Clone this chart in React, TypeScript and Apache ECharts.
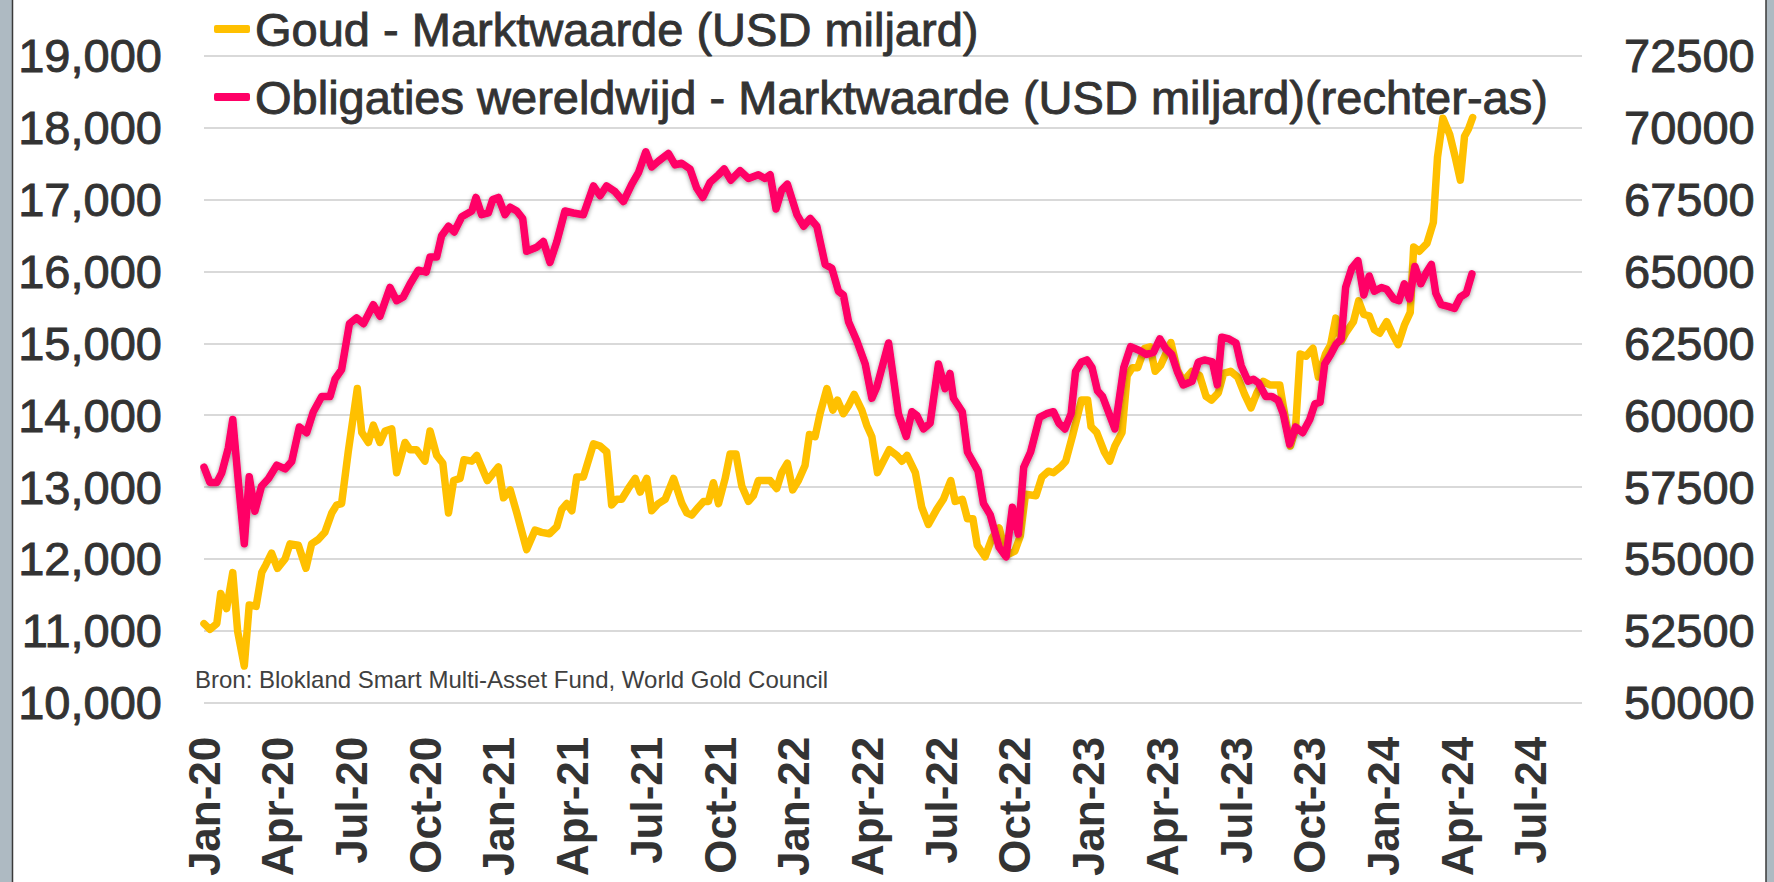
import React, { useEffect, useRef } from "react";
import * as echarts from "echarts";

// x = months since 1 Jan 2020 (quarter ticks every 3 months)
const quarterLabels = [
  "Jan-20", "Apr-20", "Jul-20", "Oct-20",
  "Jan-21", "Apr-21", "Jul-21", "Oct-21",
  "Jan-22", "Apr-22", "Jul-22", "Oct-22",
  "Jan-23", "Apr-23", "Jul-23", "Oct-23",
  "Jan-24", "Apr-24", "Jul-24",
];

const leftTicks = { min: 10000, max: 19000, step: 1000 };
const rightTicks = { min: 50000, max: 72500, step: 2500 };

const goldName = "Goud - Marktwaarde (USD miljard)";
const bondName = "Obligaties wereldwijd - Marktwaarde (USD miljard)(rechter-as)";
const sourceText = "Bron: Blokland Smart Multi-Asset Fund, World Gold Council";

// Gold market value (left axis), [month, USD bn]
const gold: [number, number][] = [
  [0, 11100], [0.24, 11020], [0.52, 11100], [0.68, 11520], [0.92, 11310], [1.17, 11810],
  [1.37, 10990], [1.64, 10510], [1.84, 11360], [2.12, 11340], [2.35, 11810], [2.52, 11920],
  [2.75, 12080], [2.99, 11870], [3.3, 12000], [3.5, 12210], [3.84, 12190], [4.15, 11870],
  [4.38, 12210], [4.65, 12270], [4.92, 12370], [5.2, 12640], [5.4, 12750], [5.6, 12770],
  [5.87, 13490], [6.24, 14370], [6.42, 13760], [6.69, 13620], [6.89, 13860], [7.16, 13620],
  [7.37, 13780], [7.64, 13810], [7.84, 13200], [8.18, 13620], [8.38, 13520], [8.65, 13520],
  [8.99, 13360], [9.2, 13780], [9.47, 13440], [9.72, 13330], [9.95, 12640], [10.16, 13090],
  [10.42, 13120], [10.58, 13380], [10.9, 13360], [11.1, 13440], [11.53, 13090], [11.98, 13280],
  [12.19, 12850], [12.46, 12960], [12.73, 12640], [13.13, 12130], [13.47, 12400], [13.74, 12370],
  [14.06, 12350], [14.36, 12450], [14.56, 12690], [14.76, 12770], [14.97, 12670], [15.17, 13140],
  [15.44, 13140], [15.85, 13600], [16.12, 13570], [16.39, 13490], [16.59, 12750], [16.8, 12830],
  [17.0, 12830], [17.27, 12980], [17.55, 13120], [17.75, 12930], [18.02, 13120], [18.22, 12670],
  [18.49, 12770], [18.77, 12830], [19.11, 13120], [19.45, 12770], [19.65, 12640], [19.85, 12610],
  [20.12, 12720], [20.33, 12800], [20.53, 12800], [20.73, 13060], [20.94, 12770], [21.21, 13120],
  [21.41, 13460], [21.65, 13460], [21.89, 13010], [22.16, 12800], [22.36, 12880], [22.56, 13090],
  [22.83, 13090], [23.04, 13090], [23.31, 12980], [23.51, 13200], [23.74, 13330], [23.96, 12960],
  [24.19, 13090], [24.46, 13300], [24.64, 13730], [24.87, 13700], [25.07, 14020], [25.35, 14370],
  [25.59, 14070], [25.78, 14210], [26.02, 14020], [26.23, 14130], [26.46, 14290], [26.77, 14070],
  [26.97, 13860], [27.18, 13700], [27.41, 13200], [27.65, 13360], [27.89, 13520], [28.2, 13440],
  [28.4, 13360], [28.61, 13440], [28.95, 13200], [29.21, 12720], [29.48, 12480], [29.82, 12690],
  [30.09, 12830], [30.39, 13090], [30.57, 12800], [30.86, 12830], [31.07, 12560], [31.29, 12560],
  [31.47, 12190], [31.79, 12030], [32.07, 12290], [32.36, 12430], [32.64, 12050], [33.0, 12110],
  [33.22, 12320], [33.43, 12900], [33.86, 12880], [34.1, 13140], [34.36, 13220], [34.57, 13200],
  [34.86, 13280], [35.07, 13360], [35.36, 13730], [35.71, 14210], [35.96, 14210], [36.1, 13840],
  [36.33, 13760], [36.64, 13490], [36.86, 13360], [37.07, 13570], [37.36, 13760], [37.57, 14550],
  [37.78, 14660], [38.0, 14660], [38.28, 14930], [38.5, 14950], [38.71, 14610], [38.93, 14690],
  [39.14, 14850], [39.35, 15010], [39.61, 14630], [39.85, 14470], [40.21, 14610], [40.52, 14550],
  [40.78, 14260], [41.0, 14210], [41.28, 14310], [41.49, 14580], [41.78, 14610], [42.07, 14530],
  [42.35, 14290], [42.61, 14100], [42.85, 14310], [43.11, 14470], [43.38, 14420], [43.78, 14420],
  [43.92, 14130], [44.21, 13570], [44.42, 13810], [44.61, 14850], [44.85, 14820], [45.13, 14930],
  [45.35, 14530], [45.64, 14850], [45.85, 14980], [46.06, 15350], [46.28, 15030], [46.46, 15140],
  [46.78, 15300], [46.99, 15590], [47.2, 15400], [47.42, 15380], [47.63, 15190], [47.85, 15140],
  [48.13, 15300], [48.35, 15140], [48.6, 14980], [48.85, 15250], [49.09, 15430], [49.23, 16340],
  [49.46, 16280], [49.77, 16390], [50.03, 16680], [50.2, 17590], [50.42, 18130], [50.7, 17900],
  [50.92, 17590], [51.13, 17270], [51.3, 17880], [51.46, 17980], [51.63, 18140],
];

// Global bonds market value (right axis), [month, USD bn]
const bonds: [number, number][] = [
  [0, 58190], [0.24, 57660], [0.52, 57660], [0.72, 57990], [0.99, 58860], [1.17, 59850],
  [1.4, 57660], [1.64, 55530], [1.84, 57860], [2.07, 56660], [2.34, 57530], [2.62, 57790],
  [2.96, 58260], [3.3, 58130], [3.57, 58390], [3.88, 59590], [4.18, 59390], [4.45, 60120],
  [4.79, 60650], [5.13, 60650], [5.33, 61250], [5.6, 61580], [5.92, 63180], [6.21, 63380],
  [6.49, 63180], [6.89, 63840], [7.16, 63440], [7.57, 64440], [7.84, 63980], [8.11, 64110],
  [8.39, 64570], [8.72, 65040], [9.04, 64970], [9.2, 65500], [9.47, 65500], [9.67, 66240],
  [9.95, 66570], [10.18, 66370], [10.49, 66900], [10.9, 67100], [11.07, 67570], [11.3, 66970],
  [11.57, 67030], [11.75, 67500], [11.98, 67570], [12.25, 66970], [12.46, 67230], [12.73, 67100],
  [12.97, 66840], [13.13, 65700], [13.54, 65840], [13.81, 66040], [14.08, 65310], [14.36, 66040],
  [14.69, 67100], [15.03, 67030], [15.44, 66970], [15.85, 67970], [16.12, 67630], [16.38, 67970],
  [16.73, 67770], [17.07, 67430], [17.41, 68030], [17.68, 68430], [17.98, 69160], [18.22, 68630],
  [18.49, 68830], [18.9, 69100], [19.17, 68700], [19.44, 68760], [19.78, 68560], [20.05, 67900],
  [20.3, 67570], [20.6, 68100], [20.94, 68360], [21.17, 68560], [21.44, 68170], [21.82, 68500],
  [22.16, 68230], [22.56, 68360], [22.83, 68230], [23.04, 68360], [23.28, 67170], [23.51, 67830],
  [23.74, 68030], [24.13, 66970], [24.4, 66570], [24.67, 66840], [24.94, 66570], [25.28, 65240],
  [25.55, 65110], [25.82, 64310], [26.02, 64180], [26.23, 63250], [26.57, 62580], [26.91, 61780],
  [27.18, 60590], [27.38, 60980], [27.86, 62510], [28.26, 60050], [28.58, 59260], [28.81, 60120],
  [29.01, 59990], [29.28, 59520], [29.55, 59720], [29.89, 61780], [30.16, 60920], [30.36, 61450],
  [30.5, 60590], [30.86, 60120], [31.07, 58720], [31.5, 58060], [31.72, 56930], [32.0, 56530],
  [32.36, 55400], [32.64, 55070], [32.9, 56800], [33.14, 55860], [33.36, 58190], [33.64, 58720],
  [34.0, 59920], [34.29, 60050], [34.57, 60120], [34.79, 59720], [35.04, 59520], [35.29, 60050],
  [35.47, 61520], [35.71, 61850], [35.93, 61920], [36.14, 61650], [36.36, 60850], [36.57, 60650],
  [37.07, 59520], [37.43, 61650], [37.71, 62380], [38.07, 62250], [38.35, 62110], [38.64, 62180],
  [38.9, 62650], [39.14, 62310], [39.38, 62110], [39.61, 61520], [39.85, 61050], [40.21, 61180],
  [40.47, 61850], [40.71, 61920], [41.04, 61850], [41.24, 61050], [41.42, 62710], [41.71, 62650],
  [42.0, 62510], [42.21, 61720], [42.49, 61180], [42.71, 61250], [42.92, 61120], [43.21, 60650],
  [43.46, 60650], [43.71, 60520], [43.92, 60050], [44.18, 58990], [44.42, 59590], [44.71, 59390],
  [45.0, 59850], [45.21, 60390], [45.42, 60450], [45.61, 61780], [45.85, 62110], [46.06, 62450],
  [46.28, 62650], [46.46, 64440], [46.71, 65110], [46.96, 65370], [47.2, 64180], [47.42, 64840],
  [47.63, 64310], [47.92, 64440], [48.13, 64380], [48.42, 64040], [48.63, 63980], [48.85, 64570],
  [49.06, 64040], [49.28, 65170], [49.52, 64570], [49.75, 64970], [49.95, 65240], [50.13, 64240],
  [50.35, 63840], [50.63, 63780], [50.89, 63710], [51.13, 64110], [51.37, 64240], [51.6, 64910],
];

const FONT = "'Liberation Sans', Arial, sans-serif";
const TEXT_COLOR = "#333333";

export default function App() {
  const ref = useRef<HTMLDivElement>(null);

  useEffect(() => {
    if (!ref.current) return;
    const chart = echarts.init(ref.current, undefined, { renderer: "svg" });
    const heavy = { textBorderColor: TEXT_COLOR, textBorderWidth: 0.9 };
    chart.setOption({
      animation: false,
      backgroundColor: "#ffffff",
      textStyle: { fontFamily: FONT },
      grid: { left: 204, right: 192, top: 55.7, bottom: 179.3, containLabel: false },
      legend: {
        orient: "vertical",
        left: 214,
        top: 5,
        padding: 0,
        itemWidth: 36,
        itemHeight: 8,
        itemGap: 20,
        icon: "roundRect",
        selectedMode: false,
        textStyle: { fontSize: 47, color: TEXT_COLOR, lineHeight: 48, fontFamily: FONT, ...heavy },
        data: [goldName, bondName],
      },
      xAxis: {
        type: "value",
        min: 0,
        max: 56.08,
        interval: 3,
        axisLine: { show: false },
        axisTick: { show: false },
        splitLine: { show: false },
        axisLabel: {
          rotate: 90,
          margin: 34,
          fontSize: 44,
          fontWeight: "bold",
          color: TEXT_COLOR,
          fontFamily: FONT,
          showMaxLabel: false,
          formatter: (v: number) => {
            const i = Math.round(v / 3);
            if (Math.abs(v - i * 3) > 1e-6) return "";
            return quarterLabels[i] ?? "";
          },
        },
      },
      yAxis: [
        {
          type: "value",
          position: "left",
          min: leftTicks.min,
          max: leftTicks.max,
          interval: leftTicks.step,
          axisLine: { show: false },
          axisTick: { show: false },
          splitLine: { show: true, lineStyle: { color: "#d9d9d9", width: 2 } },
          axisLabel: {
            margin: 42,
            fontSize: 47,
            color: TEXT_COLOR,
            fontFamily: FONT,
            ...heavy,
            formatter: (v: number) => v.toLocaleString("en-US"),
          },
        },
        {
          type: "value",
          position: "right",
          min: rightTicks.min,
          max: rightTicks.max,
          interval: rightTicks.step,
          axisLine: { show: false },
          axisTick: { show: false },
          splitLine: { show: false },
          axisLabel: {
            margin: 42,
            fontSize: 47,
            color: TEXT_COLOR,
            fontFamily: FONT,
            ...heavy,
            formatter: (v: number) => String(v),
          },
        },
      ],
      graphic: [
        { type: "rect", left: 0, top: 0, shape: { width: 12, height: 882 }, style: { fill: "#aebac2" }, silent: true },
        { type: "line", shape: { x1: 12.5, y1: 0, x2: 12.5, y2: 882 }, style: { stroke: "#3a3a3a", lineWidth: 1.5 }, silent: true },
        { type: "rect", left: 1766, top: 0, shape: { width: 8, height: 882 }, style: { fill: "#aebac2" }, silent: true },
        { type: "line", shape: { x1: 1766, y1: 0, x2: 1766, y2: 882 }, style: { stroke: "#3a3a3a", lineWidth: 1.5 }, silent: true },
        {
          type: "text",
          left: 195,
          top: 667,
          style: { text: sourceText, fontSize: 24, fill: "#404040", fontFamily: FONT },
          silent: true,
        },
      ],
      series: [
        {
          name: goldName,
          type: "line",
          yAxisIndex: 0,
          data: gold,
          showSymbol: false,
          color: "#FFC000",
          lineStyle: { width: 7.5, color: "#FFC000", join: "round", cap: "round" },
          z: 2,
        },
        {
          name: bondName,
          type: "line",
          yAxisIndex: 1,
          data: bonds,
          showSymbol: false,
          color: "#FF0066",
          lineStyle: {
            width: 7.5,
            color: "#FF0066",
            join: "round",
            cap: "round",
            shadowColor: "rgba(0,0,0,0.4)",
            shadowBlur: 4,
            shadowOffsetY: 1.5,
          },
          z: 3,
        },
      ],
    });
    return () => chart.dispose();
  }, []);

  return (
    <div
      ref={ref}
      style={{ position: "fixed", left: 0, top: 0, width: 1774, height: 882, background: "#fff" }}
    />
  );
}
